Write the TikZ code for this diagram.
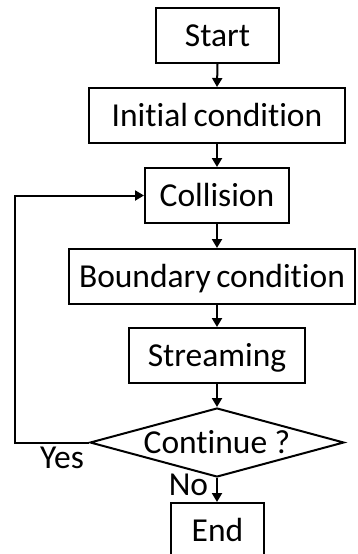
\documentclass[tikz,border=0pt]{standalone}
\usepackage{fontspec}
\setmainfont{Carlito}[RawFeature={-liga;-clig;-dlig}]
\usetikzlibrary{shapes.geometric,arrows.meta}
\begin{document}
\begin{tikzpicture}[x=1pt,y=-1pt,
  every node/.style={font=\fontsize{33.5}{40}\selectfont, text height=21.6pt, text depth=0pt, inner sep=0pt},
  stepbox/.style={draw, line width=2pt, minimum height=55pt},
  decision/.style={draw, line width=2pt, diamond, aspect=3.68, minimum width=254pt, minimum height=69pt},
  arr/.style={line width=2pt, -{Triangle[length=9pt,width=10pt]}}]
  \clip (0,0) rectangle (358,554);
  % process steps
  \node[stepbox, minimum width=123pt] (start)  at (217.5,35.5)  {Start};
  \node[stepbox, minimum width=256pt] (init)   at (217,115.5)   {Initial\kern-2pt\ condition};
  \node[stepbox, minimum width=144pt] (coll)   at (217,195.5)   {Collision};
  \node[stepbox, minimum width=286pt] (bound)  at (212,276.5)   {Boundary\kern-2pt\ condition};
  \node[stepbox, minimum width=176pt] (stream) at (217,355.5)   {Streaming};
  \node[decision]                     (dec)    at (217,442.5)   {Continue ?};
  \node[stepbox, minimum width=93pt]  (fin)    at (217.5,530.5) {End};
  % branch labels
  \node (yes) at (62,458) {Yes};
  \node (no)  at (188.5,485) {No};
  % loop-back column
  \coordinate (loopx) at (15,0);
  % connectors
  \draw[arr] (start.south) -- (init.north);
  \draw[arr] (init.south) -- (coll.north);
  \draw[arr] (coll.south) -- (coll.south |- bound.north);
  \draw[arr] (coll.south |- bound.south) -- (stream.north);
  \draw[arr] (stream.south) -- (dec.north);
  \draw[arr] (dec.south) -- (dec.south |- fin.north);
  \draw[arr] (dec.west) -- (dec.west -| loopx) |- (coll.west);
\end{tikzpicture}
\end{document}
